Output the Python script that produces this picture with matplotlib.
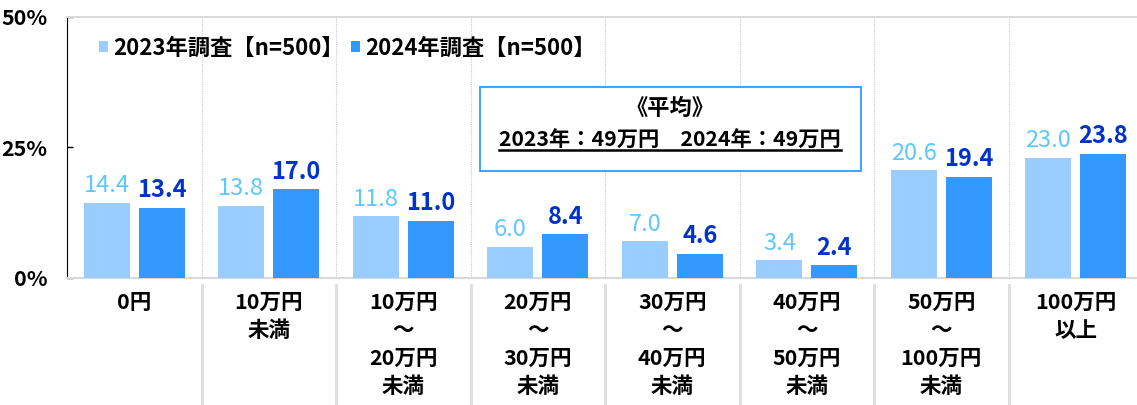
import matplotlib
matplotlib.use('Agg')
import matplotlib.pyplot as plt
from matplotlib.patches import Rectangle
from matplotlib.lines import Line2D
import numpy as np

plt.rcParams['font.family'] = ['Noto Sans CJK JP', 'DejaVu Sans']

categories = ['0円', '10万円\n未満', '10万円\n～\n20万円\n未満', '20万円\n～\n30万円\n未満',
              '30万円\n～\n40万円\n未満', '40万円\n～\n50万円\n未満', '50万円\n～\n100万円\n未満',
              '100万円\n以上']
vals_2023 = [14.4, 13.8, 11.8, 6.0, 7.0, 3.4, 20.6, 23.0]
vals_2024 = [13.4, 17.0, 11.0, 8.4, 4.6, 2.4, 19.4, 23.8]
series_names = ['2023年調査【n=500】', '2024年調査【n=500】']
yticks = [0, 25, 50]

c_light = '#99CCFF'
c_dark = '#3399FF'
c_light_txt = '#5BC8FF'
c_dark_txt = '#0033CC'

W, H = 1137, 405
fig = plt.figure(figsize=(W / 100, H / 100), dpi=100)
# axes placed in pixel terms: left 67, right 1143, top 17, bottom 278
ax = fig.add_axes([67 / W, (H - 278) / H, 1076 / W, 261 / H])

x = np.arange(len(categories))
bw = 0.342
off = 0.204
b1 = ax.bar(x - off, vals_2023, bw, color=c_light, label=series_names[0], zorder=3)
b2 = ax.bar(x + off, vals_2024, bw, color=c_dark, label=series_names[1], zorder=3)

for xi, v in zip(x, vals_2023):
    ax.annotate(f'{v:.1f}', (xi - off, v), xytext=(0, 4), textcoords='offset points',
                ha='center', va='bottom', fontsize=17, color=c_light_txt)
for xi, v in zip(x, vals_2024):
    ax.annotate(f'{v:.1f}', (xi + off, v), xytext=(0, 4), textcoords='offset points',
                ha='center', va='bottom', fontsize=17, color=c_dark_txt, fontweight='bold')

ax.set_xlim(-0.5, len(categories) - 0.5)
ax.set_ylim(0, 50)
ax.set_yticks(yticks)
ax.set_yticklabels([f'{t}%' for t in yticks], fontsize=15.5, fontweight='bold')
ax.tick_params(axis='y', direction='in', length=4, width=1, pad=14)
ax.set_xticks(x)
ax.set_xticklabels(categories, fontsize=15.5, fontweight='bold', linespacing=1.42)
ax.tick_params(axis='x', length=0, pad=10)

ax.spines['right'].set_visible(False)
ax.spines['left'].set_color('black')
ax.spines['top'].set_color('#d9d9d9')
ax.spines['top'].set_linewidth(1.5)
ax.spines['bottom'].set_color('#d9d9d9')
ax.spines['bottom'].set_linewidth(1.5)

# separators between categories
trans = ax.get_xaxis_transform()
for b in np.arange(0.5, len(categories) - 0.5, 1):
    ax.axvline(b, color='#c8c8c8', lw=0.8, ls=(0, (1, 1)), zorder=1)
    ax.add_line(Line2D([b, b], [-0.027, -0.49], transform=trans, color='#e0e0e0',
                       lw=2.2, clip_on=False))

leg = ax.legend(loc='center left', bbox_to_anchor=(99 / W, (H - 48) / H),
                bbox_transform=fig.transFigure, ncol=2, frameon=False,
                prop={'size': 16, 'weight': 'bold'}, handlelength=0.4,
                handleheight=0.4, handletextpad=0.25, columnspacing=0.3,
                borderpad=0, borderaxespad=0)

# average box
fig.patches.append(Rectangle((480 / W, (H - 171) / H), 381 / W, 84 / H,
                             transform=fig.transFigure, facecolor='white',
                             edgecolor='#3399FF', lw=1.3, zorder=5))
fig.text(670 / W, (H - 108) / H, '《平均》', ha='center', va='center',
         fontsize=16, fontweight='bold', zorder=6)
t2 = fig.text(670 / W, (H - 140) / H, '2023年：49万円　2024年：49万円', ha='center',
              va='center', fontsize=15.3, fontweight='bold', zorder=6)
fig.canvas.draw()
bb = t2.get_window_extent()
yl = bb.y0 + 0.5
fig.lines.append(Line2D([bb.x0 / W, bb.x1 / W], [yl / H, yl / H],
                        transform=fig.transFigure, color='black', lw=1.8, zorder=6))

fig.savefig('out.png', dpi=100)
